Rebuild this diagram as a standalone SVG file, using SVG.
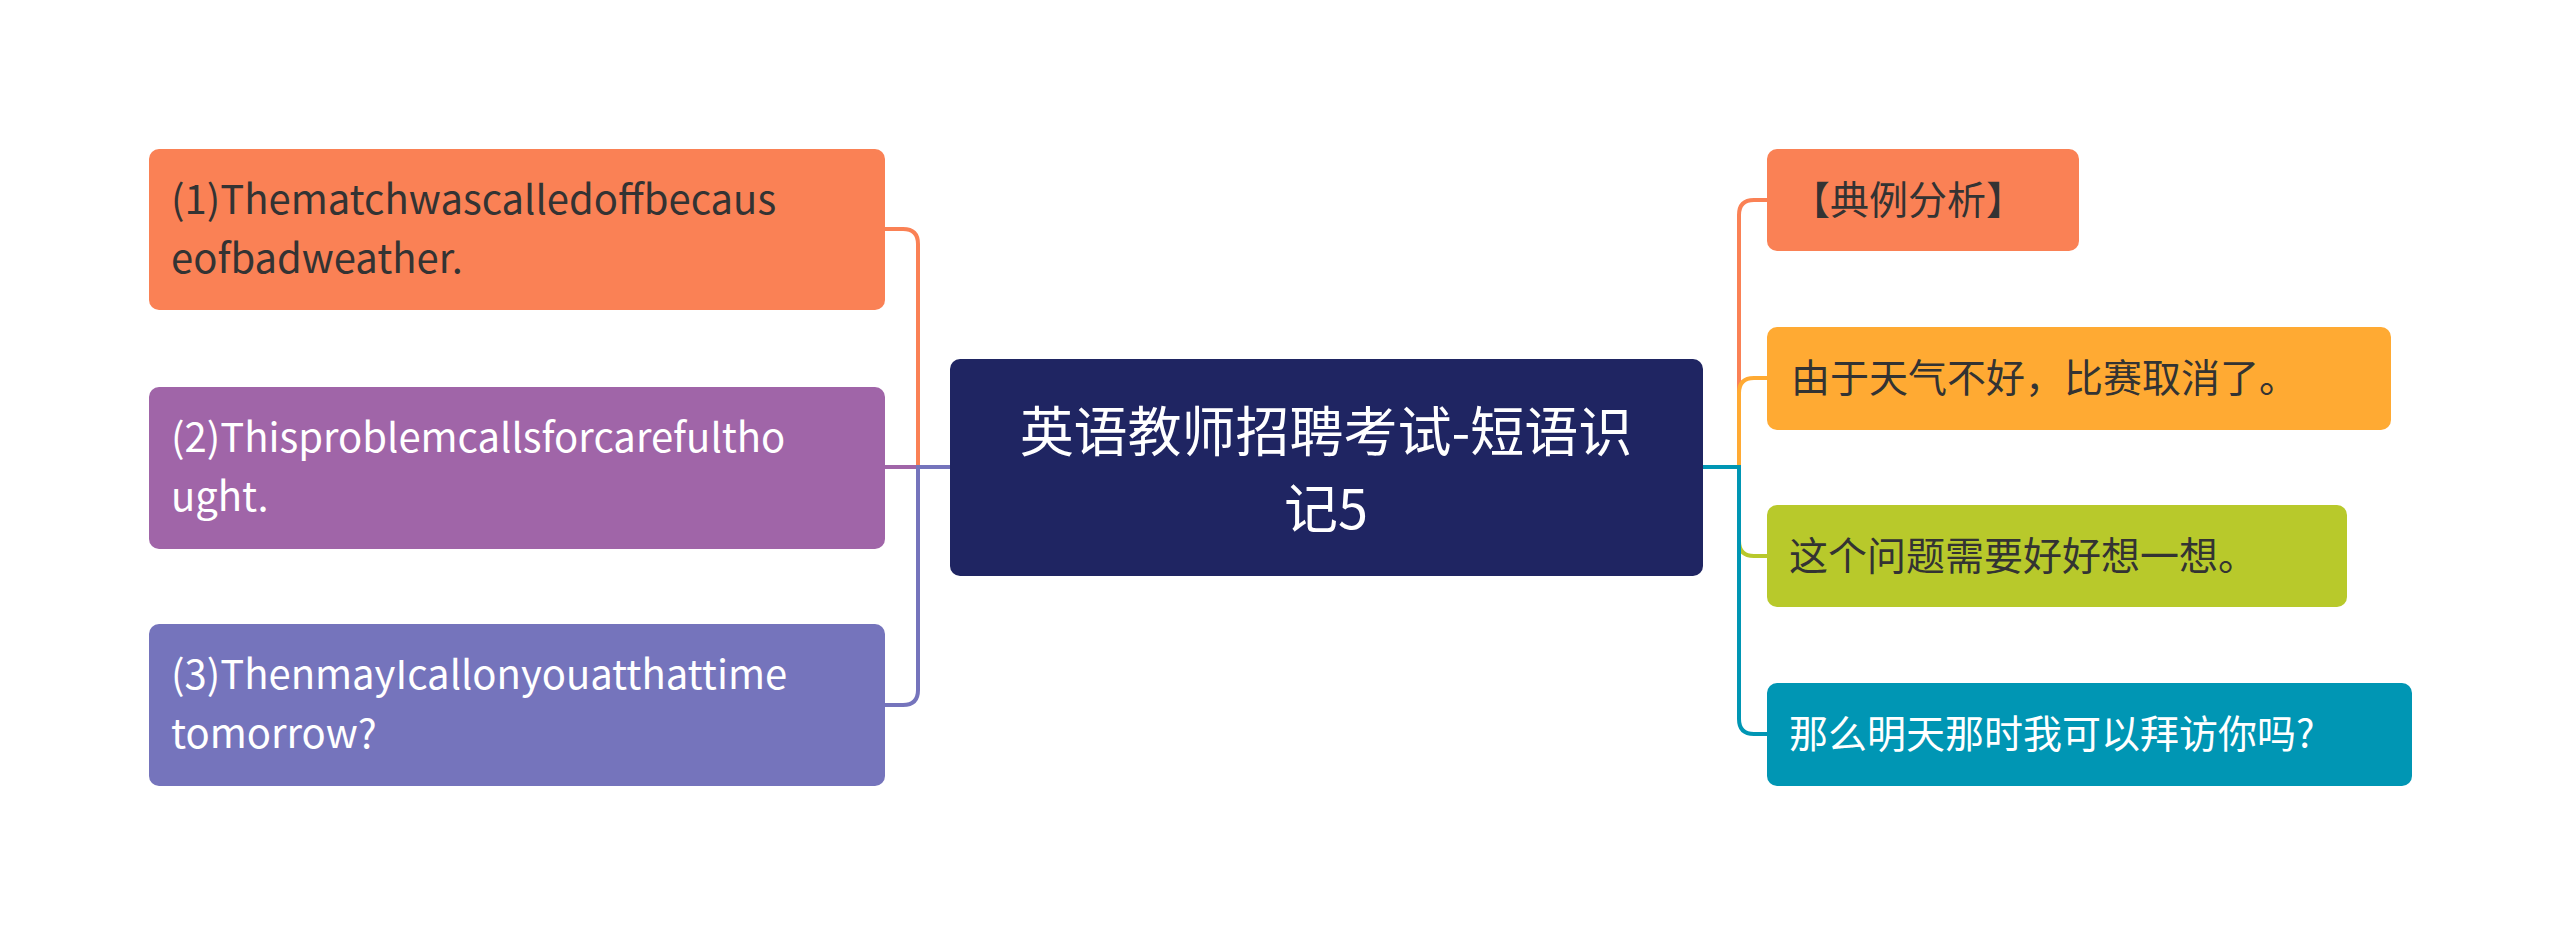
<svg xmlns="http://www.w3.org/2000/svg" width="2560" height="935" viewBox="0 0 2560 935">
<style>
text{font-family:"Noto Sans CJK SC","Noto Sans",sans-serif}
.l{font-size:40px}
.r{font-size:39px}
.c{font-size:54px;fill:#fff}
.d{fill:#333}
.w{fill:#fff}
.e{fill:none;stroke-width:4}
</style>
<rect width="2560" height="935" fill="#fff"/>
<g id="connectors">
<path class="e" stroke="#FA8155" d="M950 467H918V244Q918 229 903 229H885"/>
<path class="e" stroke="#A065A8" d="M950 467H885"/>
<path class="e" stroke="#7574BC" d="M950 467H918V690Q918 705 903 705H885"/>
<path class="e" stroke="#FA8155" d="M1703 467H1739V215Q1739 200 1754 200H1767"/>
<path class="e" stroke="#FFAA33" d="M1739 467V393Q1739 378 1754 378H1767"/>
<path class="e" stroke="#B8C92B" d="M1739 467V541Q1739 556 1754 556H1767"/>
<path class="e" stroke="#0096B4" d="M1703 467H1739V719Q1739 734 1754 734H1767"/>
</g>
<g id="center"><rect x="950" y="359" width="753" height="217" rx="10" fill="#1F2562"/>
<text class="c" x="1326" y="452" text-anchor="middle">英语教师招聘考试-短语识</text>
<text class="c" x="1326" y="529" text-anchor="middle">记5</text></g>
<g id="l1"><rect x="149" y="149" width="736" height="161" rx="10" fill="#FA8155"/>
<text class="l d" x="171" y="214">(1)Thematchwascalledoffbecaus</text><text class="l d" x="171" y="273">eofbadweather.</text></g>
<g id="l2"><rect x="149" y="387" width="736" height="162" rx="10" fill="#A065A8"/>
<text class="l w" x="171" y="452">(2)Thisproblemcallsforcarefultho</text><text class="l w" x="171" y="511">ught.</text></g>
<g id="l3"><rect x="149" y="624" width="736" height="162" rx="10" fill="#7574BC"/>
<text class="l w" x="171" y="689">(3)ThenmayIcallonyouatthattime</text><text class="l w" x="171" y="748">tomorrow?</text></g>
<g id="r1"><rect x="1767" y="149" width="312" height="102" rx="10" fill="#FA8155"/>
<text class="r d" x="1791" y="214">【典例分析】</text></g>
<g id="r2"><rect x="1767" y="327" width="624" height="103" rx="10" fill="#FFAA33"/>
<text class="r d" x="1791" y="392">由于天气不好，比赛取消了。</text></g>
<g id="r3"><rect x="1767" y="505" width="580" height="102" rx="10" fill="#B8C92B"/>
<text class="r d" x="1789" y="570">这个问题需要好好想一想。</text></g>
<g id="r4"><rect x="1767" y="683" width="645" height="103" rx="10" fill="#0096B4"/>
<text class="r w" x="1789" y="748">那么明天那时我可以拜访你吗?</text></g>
</svg>
